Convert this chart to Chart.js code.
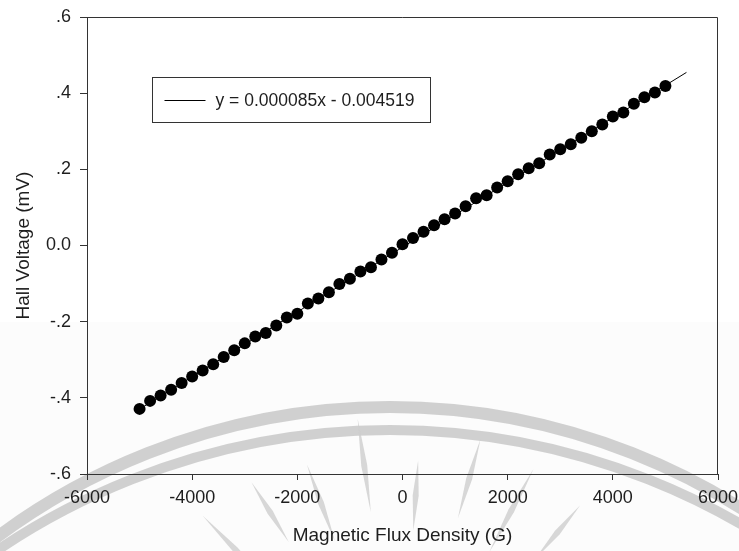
<!DOCTYPE html>
<html>
<head>
<meta charset="utf-8">
<title>Hall Voltage vs Magnetic Flux Density</title>
<script src="https://cdn.jsdelivr.net/npm/chart.js@4/dist/chart.umd.min.js"></script>
<style>
  html, body { margin: 0; padding: 0; background: #ffffff; }
  #wrap { width: 739px; height: 551px; }
</style>
</head>
<body>
<div id="wrap"><canvas id="hall" width="739" height="551"></canvas></div>
<script>
// Magnetic flux density of each measurement (G)
const fluxG = [
  -5000, -4800, -4600, -4400, -4200, -4000, -3800, -3600, -3400, -3200,
  -3000, -2800, -2600, -2400, -2200, -2000, -1800, -1600, -1400, -1200,
  -1000, -800, -600, -400, -200, 0, 200, 400, 600, 800,
  1000, 1200, 1400, 1600, 1800, 2000, 2200, 2400, 2600, 2800,
  3000, 3200, 3400, 3600, 3800, 4000, 4200, 4400, 4600, 4800, 5000
];

// Measured Hall voltage (mV)
const hallMV = [
  -0.429, -0.408, -0.394, -0.379, -0.361, -0.344, -0.328, -0.312, -0.293, -0.275,
  -0.257, -0.239, -0.230, -0.210, -0.189, -0.179, -0.152, -0.139, -0.123, -0.101,
  -0.087, -0.068, -0.057, -0.037, -0.019, 0.003, 0.020, 0.036, 0.053, 0.069,
  0.084, 0.103, 0.124, 0.132, 0.152, 0.169, 0.187, 0.203, 0.216, 0.239,
  0.253, 0.266, 0.283, 0.300, 0.318, 0.339, 0.349, 0.372, 0.389, 0.402, 0.419
];

// Linear regression line: y = 0.000085x - 0.004519, evaluated at its two ends
const fitLabel = 'y = 0.000085x - 0.004519';
const fitX = [-5000, 5400];
const fitY = [-0.429519, 0.454481];

// Axis ticks
const xTickValues = [-6000, -4000, -2000, 0, 2000, 4000, 6000];
const yTickValues = [-0.6, -0.4, -0.2, 0, 0.2, 0.4, 0.6];
const yTickText = ['-.6', '-.4', '-.2', '0.0', '.2', '.4', '.6'];

const FONT = '"Liberation Sans", Arial, Helvetica, sans-serif';
const INK = '#1e1e1e';
const AXIS = '#333333';

// Faint seal printed behind the plot (rings and rays)
const sealBackdrop = {
  id: 'sealBackdrop',
  beforeDraw(chart) {
    const ctx = chart.ctx;
    ctx.save();
    ctx.fillStyle = '#ffffff';
    ctx.fillRect(0, 0, chart.width, chart.height);
    ctx.fillStyle = '#fcfcfc';
    ctx.fillRect(0, 322, chart.width, chart.height - 322);

    ctx.strokeStyle = 'rgba(200,200,200,0.85)';
    ctx.lineWidth = 12;
    ctx.beginPath();
    ctx.arc(390, 1065, 658, Math.PI, 2 * Math.PI);
    ctx.stroke();
    ctx.lineWidth = 10;
    ctx.beginPath();
    ctx.arc(390, 1130, 700, Math.PI, 2 * Math.PI);
    ctx.stroke();

    // tapered rays
    const cx = 400, cy = 720;
    const rays = [-158, -146, -134, -122, -110, -98, -86, -74, -62, -50, -38, -26];
    rays.forEach((deg, i) => {
      const a = deg * Math.PI / 180;
      const r0 = 190 + (i % 2) * 20;
      const r1 = r0 + 70 + (i % 3) * 12;
      const ux = Math.cos(a), uy = Math.sin(a);
      const px = -uy, py = ux;
      const w = 3;
      ctx.fillStyle = 'rgba(205,205,205,0.8)';
      ctx.beginPath();
      ctx.moveTo(cx + ux * r0, cy + uy * r0);
      ctx.lineTo(cx + ux * (r0 + r1) / 2 + px * w, cy + uy * (r0 + r1) / 2 + py * w);
      ctx.lineTo(cx + ux * r1, cy + uy * r1);
      ctx.lineTo(cx + ux * (r0 + r1) / 2 - px * w, cy + uy * (r0 + r1) / 2 - py * w);
      ctx.closePath();
      ctx.fill();
    });
    ctx.restore();
  }
};

// Top and right edges of the plot frame
const plotFrame = {
  id: 'plotFrame',
  afterDraw(chart) {
    const { left, right, top, bottom } = chart.chartArea;
    const ctx = chart.ctx;
    ctx.save();
    ctx.strokeStyle = AXIS;
    ctx.lineWidth = 1;
    const t = Math.round(top) + 0.5, r = Math.round(right) - 0.5;
    ctx.beginPath();
    ctx.moveTo(Math.round(left), t);
    ctx.lineTo(r, t);
    ctx.lineTo(r, Math.round(bottom));
    ctx.stroke();
    ctx.restore();
  }
};

// Boxed key for the regression line, placed inside the plot
const fitKey = {
  id: 'fitKey',
  afterDraw(chart) {
    const { left, top } = chart.chartArea;
    const ctx = chart.ctx;
    const bx = Math.round(left) + 65.5, by = Math.round(top) + 60.5;
    const bw = 278, bh = 45;
    ctx.save();
    ctx.strokeStyle = AXIS;
    ctx.lineWidth = 1;
    ctx.fillStyle = '#ffffff';
    ctx.fillRect(bx, by, bw, bh);
    ctx.strokeRect(bx, by, bw, bh);
    const cy = by + bh / 2;
    ctx.strokeStyle = '#000000';
    ctx.beginPath();
    ctx.moveTo(bx + 12, Math.round(cy) + 0.5);
    ctx.lineTo(bx + 53, Math.round(cy) + 0.5);
    ctx.stroke();
    ctx.fillStyle = INK;
    ctx.font = '17.5px ' + FONT;
    ctx.textBaseline = 'middle';
    ctx.textAlign = 'left';
    ctx.fillText(chart.data.datasets[1].label, bx + 63, cy + 1);
    ctx.restore();
  }
};

const ctx = document.getElementById('hall').getContext('2d');
new Chart(ctx, {
  type: 'scatter',
  data: {
    datasets: [
      {
        label: 'Hall voltage',
        data: fluxG.map((x, i) => ({ x: x, y: hallMV[i] })),
        backgroundColor: '#000000',
        borderColor: '#000000',
        borderWidth: 0,
        pointRadius: 6,
        pointHoverRadius: 6,
        showLine: false,
        order: 0
      },
      {
        label: fitLabel,
        data: fitX.map((x, i) => ({ x: x, y: fitY[i] })),
        showLine: true,
        borderColor: '#000000',
        borderWidth: 1,
        pointRadius: 0,
        fill: false,
        order: 1
      }
    ]
  },
  options: {
    responsive: false,
    animation: false,
    devicePixelRatio: 1,
    layout: { padding: { left: 0, right: 21, top: 17, bottom: 0 } },
    plugins: {
      legend: { display: false },
      tooltip: { enabled: false },
      title: { display: false }
    },
    scales: {
      x: {
        type: 'linear',
        position: 'bottom',
        min: -6000,
        max: 6000,
        afterBuildTicks(scale) { scale.ticks = xTickValues.map(v => ({ value: v })); },
        afterFit(scale) {
          scale.height = 77;
          scale.paddingLeft = 0;
          scale.paddingRight = 0;
        },
        ticks: {
          color: INK,
          font: { family: FONT, size: 18 },
          padding: 7,
          maxRotation: 0,
          callback: v => String(v)
        },
        grid: {
          drawOnChartArea: false,
          drawTicks: true,
          tickLength: 6,
          tickColor: AXIS,
          tickWidth: 1
        },
        border: { display: true, color: AXIS, width: 1 },
        title: {
          display: true,
          text: 'Magnetic Flux Density (G)',
          color: INK,
          font: { family: FONT, size: 19 },
          padding: { top: 0, bottom: 4 }
        }
      },
      y: {
        type: 'linear',
        position: 'left',
        min: -0.6,
        max: 0.6,
        afterBuildTicks(scale) { scale.ticks = yTickValues.map(v => ({ value: v })); },
        afterFit(scale) {
          scale.width = 87;
          scale.paddingTop = 0;
          scale.paddingBottom = 0;
        },
        ticks: {
          color: INK,
          font: { family: FONT, size: 18 },
          padding: 9,
          callback: (v, i) => yTickText[i]
        },
        grid: {
          drawOnChartArea: false,
          drawTicks: true,
          tickLength: 7,
          tickColor: AXIS,
          tickWidth: 1
        },
        border: { display: true, color: AXIS, width: 1 },
        title: {
          display: true,
          text: 'Hall Voltage (mV)',
          color: INK,
          font: { family: FONT, size: 19 },
          padding: { top: 12, bottom: 0 }
        }
      }
    }
  },
  plugins: [sealBackdrop, plotFrame, fitKey]
});
</script>
</body>
</html>
